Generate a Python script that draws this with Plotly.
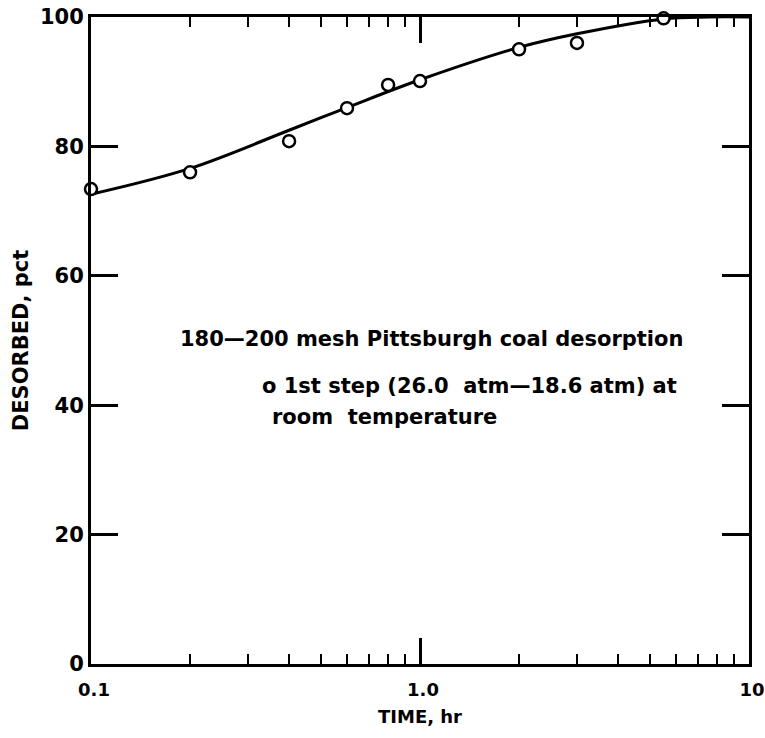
import plotly.graph_objects as go

# Measured points (time in hr, desorbed pct)
time_hr = [0.1, 0.2, 0.4, 0.6, 0.8, 1.0, 2.0, 3.0, 5.5]
desorbed_pct = [73.4, 76.0, 80.8, 85.9, 89.5, 90.1, 95.0, 96.0, 99.8]

# Smooth curve
curve_time = [0.1, 0.2, 0.4, 0.6, 1.0, 2.0, 3.0, 5.5, 7.5, 10.0]
curve_pct = [72.6, 76.6, 82.5, 86.0, 90.3, 95.3, 97.4, 99.7, 100.0, 100.0]

y_ticks = [0, 20, 40, 60, 80, 100]
x_ticks = [0.1, 1.0, 10.0]
x_tick_labels = ["0.1", "1.0", "10"]
x_minor = [0.2, 0.3, 0.4, 0.5, 0.6, 0.7, 0.8, 0.9, 2, 3, 4, 5, 6, 7, 8, 9]

FONT = "DejaVu Sans"

fig = go.Figure()
fig.add_trace(go.Scatter(
    x=curve_time, y=curve_pct, mode="lines",
    line=dict(color="black", width=3, shape="spline", smoothing=1.0),
    showlegend=False, hoverinfo="skip"))
fig.add_trace(go.Scatter(
    x=time_hr, y=desorbed_pct, mode="markers",
    marker=dict(symbol="circle", size=12, color="white",
                line=dict(color="black", width=2.5)),
    cliponaxis=False, showlegend=False))

fig.update_layout(
    width=765, height=738,
    margin=dict(l=91, r=16, t=17, b=74, autoexpand=False),
    paper_bgcolor="white", plot_bgcolor="white",
    font=dict(family=FONT, color="black", size=19, weight="bold"),
    xaxis=dict(
        type="log", range=[-1, 1], automargin=False,
        tickvals=x_ticks, ticktext=x_tick_labels,
        ticks="inside", ticklen=26, tickwidth=2.5, tickcolor="black",
        minor=dict(tickvals=x_minor, ticks="inside", ticklen=10,
                   tickwidth=2, tickcolor="black", showgrid=False),
        showline=True, linecolor="black", linewidth=3, mirror="ticks",
        showgrid=False, zeroline=False,
        ticklabelstandoff=7, ticklabelshift=3,
        tickfont=dict(family=FONT, size=18, weight="bold"),
        title=dict(text="TIME, hr", standoff=12,
                   font=dict(family=FONT, size=18, weight="bold")),
    ),
    yaxis=dict(
        range=[0, 100], tickvals=y_ticks, automargin=False,
        ticks="inside", ticklen=27, tickwidth=2.5, tickcolor="black",
        showline=True, linecolor="black", linewidth=3, mirror="ticks",
        showgrid=False, zeroline=False,
        tickfont=dict(family=FONT, size=21, weight="bold"),
        title=dict(text="DESORBED, pct", standoff=6,
                   font=dict(family=FONT, size=21, weight="bold")),
    ),
    annotations=[
        dict(text="180\u2014200 mesh Pittsburgh coal desorption",
             xref="paper", yref="paper", x=0.132, y=0.502,
             xanchor="left", yanchor="middle", showarrow=False,
             font=dict(family=FONT, size=21, weight="bold")),
        dict(text="o 1st step (26.0  atm\u201418.6 atm) at",
             xref="paper", yref="paper", x=0.257, y=0.43,
             xanchor="left", yanchor="middle", showarrow=False,
             font=dict(family=FONT, size=21, weight="bold")),
        dict(text="room  temperature",
             xref="paper", yref="paper", x=0.272, y=0.382,
             xanchor="left", yanchor="middle", showarrow=False,
             font=dict(family=FONT, size=21, weight="bold")),
    ],
)

fig.write_html("out.html")
